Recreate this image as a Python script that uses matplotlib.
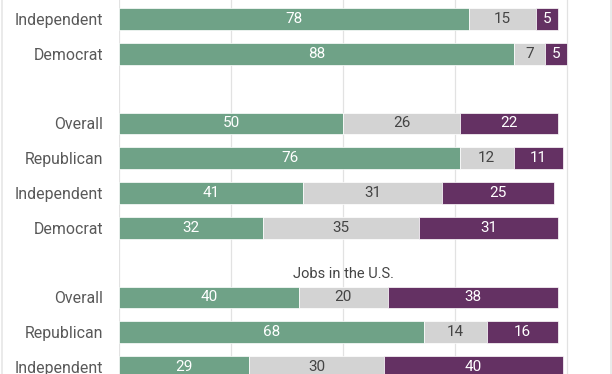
import matplotlib
matplotlib.use("Agg")
import matplotlib.pyplot as plt
from matplotlib.lines import Line2D

plt.rcParams['font.family'] = ['Roboto', 'DejaVu Sans']

# groups of rows, top to bottom (chart is cropped: first group title not visible)
group_titles = ["", "", "Jobs in the U.S."]
group_cats = [
    ["Independent", "Democrat"],
    ["Overall", "Republican", "Independent", "Democrat"],
    ["Overall", "Republican", "Independent"],
]
green_vals = [[78, 88], [50, 76, 41, 32], [40, 68, 29]]
gray_vals = [[15, 7], [26, 12, 31, 35], [20, 14, 30]]
purple_vals = [[5, 5], [22, 11, 25, 31], [38, 16, 40]]

c_green = "#6fa287"
c_gray = "#d3d3d3"
c_purple = "#643163"

fig = plt.figure(figsize=(6.12, 3.74), dpi=100)
ax = fig.add_axes([119.3 / 612, 0, (612 - 119.3) / 612, 1])

ypos = []
labels = []
title_pos = []
row = 0
for g, cats in enumerate(group_cats):
    if g > 0:
        title_pos.append((group_titles[g], row + 0.33))
        row += 1
    for i, c in enumerate(cats):
        y = row
        gv, yv, pv = green_vals[g][i], gray_vals[g][i], purple_vals[g][i]
        ax.barh(y, gv, height=0.62, color=c_green, edgecolor="white", linewidth=0.5, zorder=2)
        ax.barh(y, yv, left=gv, height=0.62, color=c_gray, edgecolor="white", linewidth=0.5, zorder=2)
        ax.barh(y, pv, left=gv + yv, height=0.62, color=c_purple, edgecolor="white", linewidth=0.5, zorder=2)
        ax.text(gv / 2, y, str(gv), ha="center", va="center", color="white",
                fontsize=11, zorder=3)
        ax.text(gv + yv / 2, y, str(yv), ha="center", va="center", color="#444444",
                fontsize=11, zorder=3)
        ax.text(gv + yv + pv / 2, y, str(pv), ha="center", va="center", color="white",
                fontsize=11, zorder=3)
        ypos.append(y)
        labels.append(c)
        row += 1

for t, y in title_pos:
    if t:
        ax.text(50, y, t, ha="center", va="center", color="#444444", fontsize=10.5)

ax.set_xlim(0, (612 - 119.3) / 4.48)
ax.set_ylim(10.2, -0.546)
ax.set_yticks(ypos)
ax.set_yticklabels(labels, fontsize=11.4, color="#595959")
ax.tick_params(axis="y", length=0, pad=11.5)
ax.set_xticks([])
for x in [0, 25, 50, 75, 100]:
    ax.axvline(x, color="#e2e2e2", linewidth=0.9, zorder=1)
for s in ax.spines.values():
    s.set_visible(False)

# light frame lines at the figure edges
fig.add_artist(Line2D([1.5 / 612, 1.5 / 612], [0, 1], color="#e6e6e6", linewidth=1.2))
fig.add_artist(Line2D([610.5 / 612, 610.5 / 612], [0, 1], color="#e6e6e6", linewidth=1.2))

fig.savefig("out.png", dpi=100)
